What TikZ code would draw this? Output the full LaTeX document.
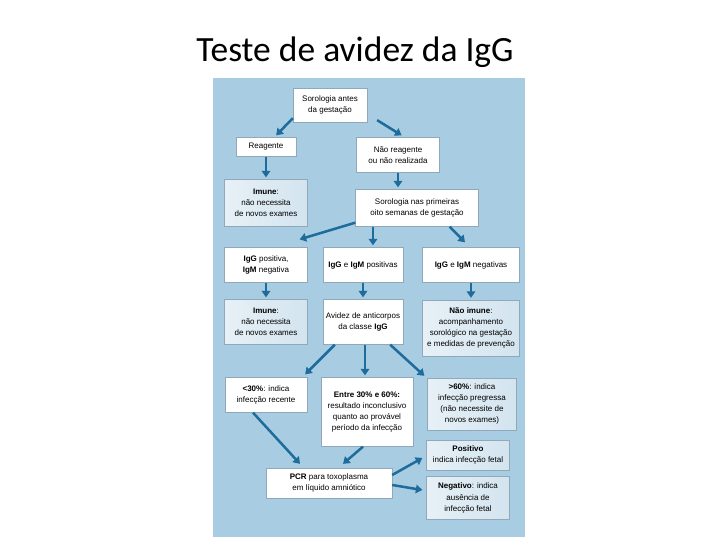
\documentclass[tikz,border=0pt]{standalone}
\usepackage{fontspec}
\setmainfont{Liberation Sans}
\newfontfamily\titlefont{Carlito}
\usetikzlibrary{positioning,arrows.meta,calc}
\definecolor{panelblue}{HTML}{A8CCE1}
\definecolor{arrowblue}{HTML}{1D6C9B}
\definecolor{paleblue}{HTML}{D3E4EF}
\definecolor{edgegray}{HTML}{8FA9BA}

\begin{document}
\begin{tikzpicture}[x=1pt, y=-1pt,
  box/.style={draw=edgegray, line width=0.3pt, fill=white, align=center, inner sep=1pt,
    font=\fontsize{8}{11.2}\selectfont},
  pale/.style={box, left color=paleblue!55, right color=paleblue},
  arr/.style={draw=arrowblue, line width=2.5pt, -{Triangle[length=6.5pt, width=8.5pt]}}
]
  \useasboundingbox (0,0) rectangle (720,540);
  \fill[white] (0,0) rectangle (720,540);
  \node[anchor=base, font=\titlefont\fontsize{35.5}{40}\selectfont] (title) at (355,61.5) {Teste de avidez da IgG};
  \fill[panelblue] (213,78) rectangle (525,537);

  % first rows
  \node[box, minimum width=74pt, minimum height=34pt] (top) at (330,105) {Sorologia antes\\da gestação};
  \node[box, minimum width=60pt, minimum height=19pt] (reag) at (266,147) {Reagente};
  \node[box, minimum width=83pt, minimum height=35pt] (nreag) at (398,155) {Não reagente\\ou não realizada};
  \node[pale, minimum width=83pt, minimum height=47pt] (imune1) at (266,203) {\textbf{Imune}:\\não necessita\\de novos exames};
  \node[box, minimum width=123pt, minimum height=37pt] (sor8) at (417,208) {Sorologia nas primeiras\\oito semanas de gestação};

  % IgG / IgM results
  \node[box, minimum width=83pt, minimum height=35pt] (pos1) at (266,265) {\textbf{IgG} positiva,\\\textbf{IgM} negativa};
  \node[box, minimum width=80pt, minimum height=35pt] (pos2) at (363,265) {\textbf{IgG} e \textbf{IgM} positivas};
  \node[box, minimum width=97pt, minimum height=35pt] (neg) at (471,265) {\textbf{IgG} e \textbf{IgM} negativas};

  \node[pale, minimum width=83pt, minimum height=45pt] (imune2) at (266,322) {\textbf{Imune}:\\não necessita\\de novos exames};
  \node[box, minimum width=80pt, minimum height=45pt] (avid) at (363,322) {Avidez de anticorpos\\da classe \textbf{IgG}};
  \node[pale, minimum width=97pt, minimum height=56pt] (naoim) at (471,328) {\textbf{Não imune}:\\acompanhamento\\sorológico na gestação\\e medidas de prevenção};

  % avidity
  \node[box, minimum width=82pt, minimum height=35pt] (lt30) at (266,395) {\textbf{<30\%}: indica\\infecção recente};
  \node[box, minimum width=92pt, minimum height=69pt] (entre) at (367,412) {\textbf{Entre 30\% e 60\%:}\\resultado inconclusivo\\quanto ao provável\\período da infecção};
  \node[pale, minimum width=89pt, minimum height=52pt] (gt60) at (472,404) {\textbf{>60\%}: indica\\infecção pregressa\\(não necessite de\\novos exames)};

  % PCR
  \node[pale, minimum width=83pt, minimum height=30pt] (posit) at (468,455) {\textbf{Positivo}\\indica infecção fetal};
  \node[box, minimum width=126pt, minimum height=30pt] (pcr) at (329,483) {\textbf{PCR} para toxoplasma\\em líquido amniótico};
  \node[pale, minimum width=83pt, minimum height=43pt] (negat) at (468,498) {\textbf{Negativo}: indica\\ausência de\\infecção fetal};

  \draw[arr] ([yshift=4pt]top.south west) -- ([xshift=-20pt,yshift=2pt]reag.north east);
  \draw[arr] ([xshift=10pt,yshift=2pt]top.south east) -- ([xshift=-38pt,yshift=2pt]nreag.north east);
  \draw[arr] (reag.south) -- ([yshift=2pt]imune1.north);
  \draw[arr] (nreag.south) -- ([xshift=-19pt,yshift=2pt]sor8.north);
  \draw[arr] ([yshift=4pt]sor8.south west) -- ([xshift=-8pt,yshift=8pt]pos1.north east);
  \draw[arr] ([xshift=-44pt]sor8.south) -- ([xshift=10pt,yshift=2pt]pos2.north);
  \draw[arr] ([xshift=-29pt]sor8.south east) -- ([xshift=-6pt,yshift=5pt]neg.north);
  \draw[arr] (pos1.south) -- ([yshift=2pt]imune2.north);
  \draw[arr] (pos2.south) -- ([yshift=2pt]avid.north);
  \draw[arr] (neg.south) -- ([yshift=2pt]naoim.north);
  \draw[arr] ([xshift=12pt]avid.south west) -- ([xshift=-2pt,yshift=3pt]lt30.north east);
  \draw[arr] ([xshift=2pt]avid.south) -- ([xshift=-2pt,yshift=2pt]entre.north);
  \draw[arr] ([xshift=-13pt]avid.south east) -- ([xshift=-3pt,yshift=2pt]gt60.north west);
  \draw[arr] ([xshift=-13pt]lt30.south) -- ([xshift=-29pt,yshift=4pt]pcr.north);
  \draw[arr] ([xshift=-4pt]entre.south) -- ([xshift=14pt,yshift=4pt]pcr.north);
  \draw[arr] ([yshift=8pt]pcr.east) -- ([xshift=-4pt,yshift=-3pt]posit.west);
  \draw[arr] ([yshift=-2pt]pcr.east) -- ([xshift=-4pt,yshift=8pt]negat.west);
\end{tikzpicture}
\end{document}
